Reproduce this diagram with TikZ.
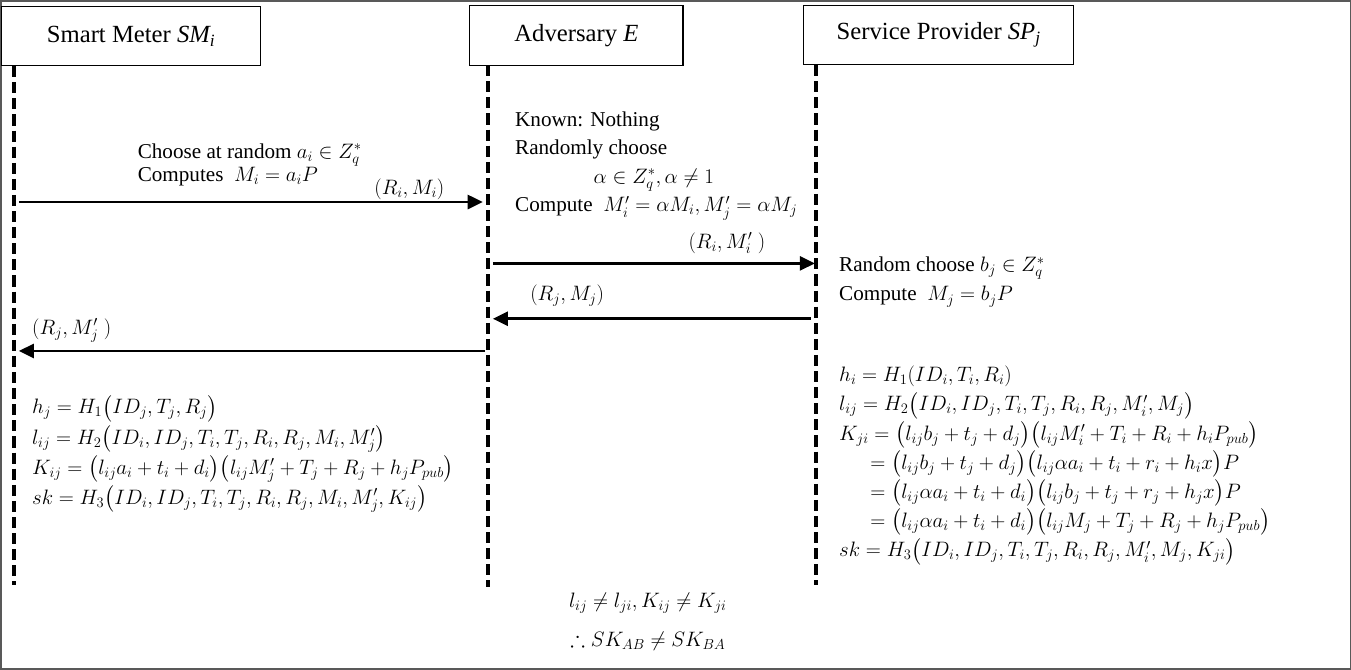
\documentclass[tikz,border=0pt]{standalone}
\usepackage{amsmath,amssymb}
\usepackage{fontspec}
\setmainfont{Liberation Serif}
\usetikzlibrary{arrows.meta}
\begin{document}
\begin{tikzpicture}[x=1pt,y=-1pt,
  hdr/.style={draw,line width=1.2pt,minimum height=59pt,font=\fontsize{24.5}{28}\selectfont,inner sep=0pt},
  txt/.style={anchor=west,inner sep=0pt,font=\fontsize{21}{25}\selectfont},
  eq/.style={anchor=west,inner sep=0pt,text height=15pt,text depth=6pt,font=\fontsize{22}{25}\selectfont},
  ctxt/.style={inner sep=0pt,font=\fontsize{22}{25}\selectfont},
  life/.style={line width=4pt,dash pattern=on 11pt off 5pt},
  msg/.style={line width=2.5pt,-{Triangle[length=15pt,width=14pt]}},
]
\draw[line width=1.5pt,black!65] (7,2) rectangle (1348,666);
% headers
\node[hdr,minimum width=257pt] (sm) at (136.5,37) {Smart Meter \textit{SM\textsubscript{i}}};
\node[hdr,minimum width=212pt] (adv) at (579,36.5) {Adversary \textit{E}};
\node[hdr,minimum width=268pt] (sp) at (939,36) {Service Provider \textit{SP\textsubscript{j}}};
% lifelines
\coordinate (smT) at (20,67);  \coordinate (smB) at (20,583);
\coordinate (adT) at (491,66); \coordinate (adB) at (491,585);
\coordinate (spT) at (817,66); \coordinate (spB) at (817,583);
\draw[life] (smT) -- (smB);
\draw[life] (adT) -- (adB);
\draw[life] (spT) -- (spB);
% message endpoints
\coordinate (m1s) at (25,202);  \coordinate (m1e) at (486,202);
\coordinate (m2s) at (496,263); \coordinate (m2e) at (816,263);
\coordinate (m3s) at (812,318); \coordinate (m3e) at (496,318);
\coordinate (m4s) at (488,350); \coordinate (m4e) at (25,350);
\draw[msg] (m1s) -- (m1e);
\draw[msg] (m2s) -- (m2e);
\draw[msg] (m3s) -- (m3e);
\draw[msg] (m4s) -- (m4e);
% smart meter side texts
\node[txt] (t1) at (143,155) {Choose at random $a_i \in Z_q^*$};
\node[txt] (t2) at (143,177) {Computes\ \ $M_i = a_iP$};
\node[ctxt,anchor=east] (l1) at (448,189) {$(R_i, M_i)$};
% adversary texts
\node[txt] (a1) at (518,122) {Known: Nothing};
\node[txt] (a2) at (518,150) {Randomly choose};
\node[ctxt] (a3) at (656,180) {$\alpha \in Z_q^*, \alpha \neq 1$};
\node[txt] (a4) at (518,208) {Compute\ \ $M_i' = \alpha M_i, M_j' = \alpha M_j$};
\node[ctxt,anchor=east] (l2) at (767,243) {$(R_i, M_i'\ )$};
\node[ctxt,anchor=west] (l3) at (533,295) {$(R_j, M_j)$};
\node[ctxt,anchor=west] (l4) at (38,330) {$(R_j, M_j'\ )$};
% service provider texts
\node[txt] (s1) at (840,268) {Random choose $b_j \in Z_q^*$};
\node[txt] (s2) at (840,296) {Compute\ \ $M_j = b_jP$};
\node[eq] (s3) at (840,376) {$h_i = H_1(ID_i, T_i, R_i)$};
\node[eq] (s4) at (840,405) {$l_{ij} = H_2\bigl(ID_i, ID_j, T_i, T_j, R_i, R_j, M_i', M_j\bigr)$};
\node[eq] (s5) at (840,434) {$K_{ji} = \bigl(l_{ij}b_j + t_j + d_j\bigr)\bigl(l_{ij}M_i' + T_i + R_i + h_iP_{pub}\bigr)$};
\node[eq] (s6) at (871,463) {$= \bigl(l_{ij}b_j + t_j + d_j\bigr)\bigl(l_{ij}\alpha a_i + t_i + r_i + h_ix\bigr)P$};
\node[eq] (s7) at (871,492) {$= \bigl(l_{ij}\alpha a_i + t_i + d_i\bigr)\bigl(l_{ij}b_j + t_j + r_j + h_jx\bigr)P$};
\node[eq] (s8) at (871,521) {$= \bigl(l_{ij}\alpha a_i + t_i + d_i\bigr)\bigl(l_{ij}M_j + T_j + R_j + h_jP_{pub}\bigr)$};
\node[eq] (s9) at (840,550) {$sk = H_3\bigl(ID_i, ID_j, T_i, T_j, R_i, R_j, M_i', M_j, K_{ji}\bigr)$};
% smart meter equations
\node[eq] (e1) at (38,408) {$h_j = H_1\bigl(ID_j, T_j, R_j\bigr)$};
\node[eq] (e2) at (38,438) {$l_{ij} = H_2\bigl(ID_i, ID_j, T_i, T_j, R_i, R_j, M_i, M_j'\bigr)$};
\node[eq] (e3) at (38,468) {$K_{ij} = \bigl(l_{ij}a_i + t_i + d_i\bigr)\bigl(l_{ij}M_j' + T_j + R_j + h_jP_{pub}\bigr)$};
\node[eq] (e4) at (38,498) {$sk = H_3\bigl(ID_i, ID_j, T_i, T_j, R_i, R_j, M_i, M_j', K_{ij}\bigr)$};
% conclusion
\node[ctxt] (c1) at (650,601) {$l_{ij} \neq l_{ji}, K_{ij} \neq K_{ji}$};
\node[ctxt] (c2) at (650,638) {$\therefore SK_{AB} \neq SK_{BA}$};
\end{tikzpicture}
\end{document}
